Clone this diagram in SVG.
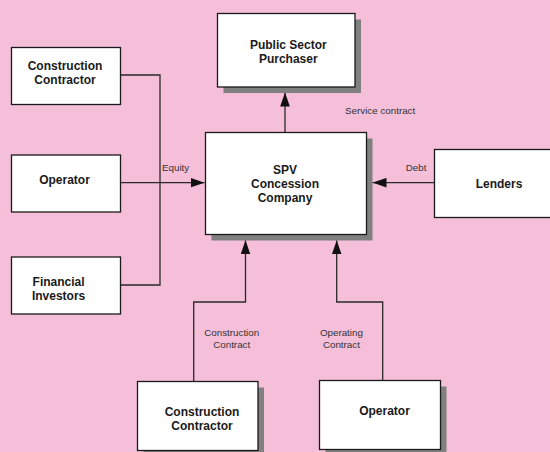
<svg xmlns="http://www.w3.org/2000/svg" width="550" height="452" viewBox="0 0 550 452">
<style>
.box{fill:#ffffff;stroke:#1a1a1a;stroke-width:1.3}
.shadow{fill:#808080}
.t{font-family:"Liberation Sans",Arial,sans-serif;font-size:12px;font-weight:bold;fill:#1a1a1a;text-anchor:middle}
.lbl{font-family:"Liberation Sans",Arial,sans-serif;font-size:9.8px;fill:#333333}
.c{fill:none;stroke:#2a2a2a;stroke-width:1.3}
</style>
<defs>
<marker id="arr" markerUnits="userSpaceOnUse" markerWidth="14" markerHeight="10" viewBox="0 0 13 9" refX="13" refY="4.5" orient="auto">
<path d="M0,0 L13,4.5 L0,9 Z" fill="#111111"/>
</marker>
</defs>
<rect width="550" height="452" fill="#F5BFD9"/>
<g id="connectors">
<polyline class="c" points="120,75 160,75 160,285 120,285"/>
<line class="c" x1="120" y1="182.7" x2="204.5" y2="182.7" marker-end="url(#arr)"/>
<line class="c" x1="285" y1="132.5" x2="285" y2="92.5" marker-end="url(#arr)"/>
<line class="c" x1="434.5" y1="182.7" x2="372.5" y2="182.7" marker-end="url(#arr)"/>
<polyline class="c" points="193.7,381.5 193.7,302 245.5,302 245.5,240.3" marker-end="url(#arr)"/>
<polyline class="c" points="382.7,380.5 382.7,302 336.7,302 336.7,240.3" marker-end="url(#arr)"/>
<text class="lbl" x="162" y="171">Equity</text>
<text class="lbl" x="345" y="114">Service contract</text>
<text class="lbl" x="405.7" y="171">Debt</text>
<text class="lbl" x="231.7" y="336" text-anchor="middle">Construction</text>
<text class="lbl" x="231.7" y="347.6" text-anchor="middle">Contract</text>
<text class="lbl" x="341.4" y="336" text-anchor="middle">Operating</text>
<text class="lbl" x="341.4" y="347.6" text-anchor="middle">Contract</text>
</g>
<g id="construction-contractor-left">
<rect class="box" x="11.5" y="47.5" width="109" height="57"/>
<text class="t" x="65" y="70.3">Construction</text>
<text class="t" x="65" y="84.3">Contractor</text>
</g>
<g id="operator-left">
<rect class="box" x="11.5" y="155" width="109" height="57"/>
<text class="t" x="64.5" y="184">Operator</text>
</g>
<g id="financial-investors">
<rect class="box" x="11.5" y="257" width="109" height="57"/>
<text class="t" x="58.6" y="286">Financial</text>
<text class="t" x="58.6" y="300">Investors</text>
</g>
<g id="public-sector-purchaser">
<rect class="shadow" x="223.5" y="19.5" width="137.5" height="73.5"/>
<rect class="box" x="217.5" y="13.5" width="137.5" height="73.5"/>
<text class="t" x="288.3" y="48.6">Public Sector</text>
<text class="t" x="288.3" y="62.6">Purchaser</text>
</g>
<g id="spv">
<rect class="shadow" x="211.5" y="138.5" width="161" height="102"/>
<rect class="box" x="205.5" y="132.5" width="161" height="102"/>
<text class="t" x="285" y="173.6">SPV</text>
<text class="t" x="285" y="187.6">Concession</text>
<text class="t" x="285" y="201.6">Company</text>
</g>
<g id="lenders">
<rect class="box" x="434.5" y="149.5" width="130" height="68"/>
<text class="t" x="499" y="187.6">Lenders</text>
</g>
<g id="construction-contractor-bottom">
<rect class="shadow" x="143.5" y="387.5" width="120.5" height="69"/>
<rect class="box" x="137.5" y="381.5" width="120.5" height="69"/>
<text class="t" x="202" y="416">Construction</text>
<text class="t" x="202" y="430">Contractor</text>
</g>
<g id="operator-bottom">
<rect class="shadow" x="325.5" y="386.5" width="121" height="69"/>
<rect class="box" x="319.5" y="380.5" width="121" height="69"/>
<text class="t" x="384.5" y="415.3">Operator</text>
</g>
</svg>
